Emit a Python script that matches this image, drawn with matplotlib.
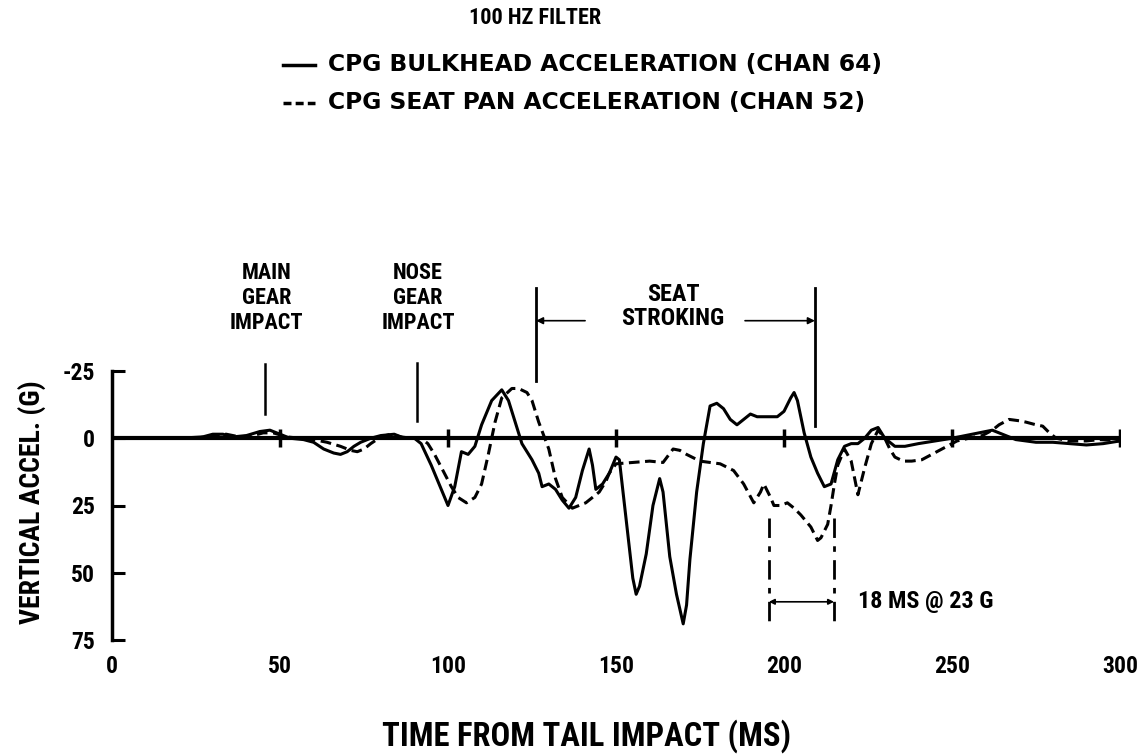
import numpy as np
import matplotlib.pyplot as plt

COND = ['Roboto Condensed', 'DejaVu Sans']
WIDE = ['DejaVu Sans']

# time (ms) / vertical acceleration (G), positive = downward on the plot
bulkhead_t = [0, 20, 27, 30, 33, 36, 40, 44, 47, 50, 53, 57, 60, 63, 66, 68, 70, 72, 74, 77,
              80, 84, 87, 90, 92, 95, 98, 100, 102, 104, 106, 108, 110, 113, 116, 118, 120,
              122, 125, 127, 128, 130, 132, 134, 136, 138, 140, 142, 143, 144, 146, 148, 150,
              151, 153, 155, 156, 157, 159, 161, 163, 164, 166, 168, 170, 171, 172, 174, 176,
              178, 180, 182, 184, 186, 188, 190, 192, 195, 198, 200, 202, 203, 204, 206, 208,
              210, 212, 214, 216, 218, 220, 222, 224, 226, 228, 230, 233, 236, 240, 245, 250,
              254, 258, 262, 265, 269, 275, 280, 290, 295, 300]
bulkhead_g = [0, 0, -0.5, -1.5, -1.5, -0.5, -1, -2.5, -3, -1.5, 0, 0.5, 1.5, 4, 5.5, 6, 5, 3, 1.5, 0,
              -1, -1.5, 0, 0, 2, 10, 19, 25, 18, 5, 6, 3, -5, -14, -18, -14, -6,
              2, 8, 13, 18, 17, 19, 23, 26, 22, 12, 4, 10, 19, 17, 13, 7,
              8, 30, 52, 58, 55, 43, 25, 15, 20, 44, 58, 69, 62, 45, 20, 2,
              -12, -13, -11, -7, -5, -7, -9, -8, -8, -8, -10, -15, -17, -14, -2, 7,
              13, 18, 17, 8, 3, 2, 2, 0, -3, -4, 0, 3, 3, 2, 1, 0,
              -1, -2, -3, -1.5, 0.5, 1.5, 1.5, 2.5, 2, 1]

seatpan_t = [0, 25, 30, 34, 38, 42, 45, 48, 52, 56, 60, 64, 68, 71, 73, 75, 77, 80, 83, 86, 89,
             92, 94, 96, 98.5, 101, 103, 105.5, 108, 110, 112, 114, 116, 119, 121, 123.5, 125,
             127, 130, 132, 134, 137, 139, 141, 143, 145, 147, 148, 150, 155, 160, 164, 167,
             169, 171, 175, 181, 185, 188, 191, 193, 194, 196, 197, 199, 201, 203, 205, 208,
             210, 211, 213, 214, 215, 216, 218, 220, 222, 224, 226, 228, 230, 231.5, 233,
             235.5, 238, 241, 244, 247, 251.5, 255, 259, 262, 264, 267, 270, 272, 275, 277,
             279, 281, 285, 290, 294, 300]
seatpan_g = [0, 0, -1, -1.5, -0.5, -1, -2, -2, -0.5, 0, 0.5, 1.5, 3, 4.5, 5, 4, 2, -0.5, -1.5, -0.5, 0,
             0, 2, 6, 12, 18, 22, 24, 22, 17, 6, -6, -15, -18.5, -18.5, -17, -14,
             -6, 4, 15, 22, 26, 25, 24, 22, 20, 16, 13, 9.5, 9, 8.5, 9, 4,
             4.5, 6, 8.5, 9.5, 12, 17, 24, 20, 17, 22, 25, 25, 24, 26, 28.5, 33,
             38, 37, 32, 25, 17, 10, 4, 8.5, 21, 11, 2, -3, 0, 4, 7,
             8.5, 8.5, 8, 6, 4, 1, 0, -1, -3, -5, -7, -6.5, -6, -5, -4.5,
             -2, 0, 1, 1, 0.5, 1]

x_ticks = [0, 50, 100, 150, 200, 250, 300]
y_ticks = [-25, 0, 25, 50, 75]

main_gear_t = 45.5
nose_gear_t = 90.8
stroke_start, stroke_end = 126.2, 209.2
pulse_start, pulse_end = 195.5, 214.9

W, H = 1144, 755
fig = plt.figure(figsize=(W / 100, H / 100), dpi=100)
ax = fig.add_axes([112 / W, 1 - 640 / H, 1008 / W, 269 / H])

ax.plot(bulkhead_t, bulkhead_g, color='black', lw=2.2, solid_joinstyle='round')
ax.plot(seatpan_t, seatpan_g, color='black', lw=2.2, dashes=(3.5, 1.8))

# zero line with its tick marks
ax.plot([x_ticks[0], x_ticks[-1]], [0, 0], color='black', lw=3)
ax.plot(x_ticks[1:], np.zeros(len(x_ticks) - 1), linestyle='none', marker='|',
        markersize=13, mew=2.5, color='black')

ax.set_xlim(0, 300)
ax.set_ylim(75, -25)
for side in ['top', 'right', 'bottom']:
    ax.spines[side].set_visible(False)
ax.spines['left'].set_linewidth(2.5)
ax.spines['left'].set_bounds(-25, 75)
ax.set_yticks(y_ticks)
ax.set_yticklabels([str(v) for v in y_ticks], fontfamily=COND, fontweight='bold', fontsize=17)
ax.tick_params(axis='y', direction='in', length=9, width=2.2, pad=12)
ax.set_xticks(x_ticks)
ax.set_xticklabels([str(v) for v in x_ticks], fontfamily=COND, fontweight='bold', fontsize=17)
ax.tick_params(axis='x', length=0, pad=11)

ax.set_xlabel('TIME FROM TAIL IMPACT (MS)', fontfamily=COND, fontweight='bold',
              fontsize=23.5, va='center')
ax.xaxis.set_label_coords((587 - 112) / 1008, (640 - 736) / 269)
ax.set_ylabel('VERTICAL ACCEL. (G)', fontfamily=COND, fontweight='bold',
              fontsize=20, va='center')
ax.yaxis.set_label_coords((32 - 112) / 1008, (640 - 502) / 269)

# event markers
note = dict(fontfamily=COND, fontweight='bold', fontsize=16, ha='center', va='center',
            linespacing=1.17)
ax.plot([main_gear_t, main_gear_t], [-27.7, -9.1], color='black', lw=1.8, clip_on=False)
ax.text(main_gear_t + 0.5, -52.2, 'MAIN\nGEAR\nIMPACT', **note)
ax.plot([nose_gear_t, nose_gear_t], [-28, -6.5], color='black', lw=1.8, clip_on=False)
ax.text(nose_gear_t + 0.3, -52.2, 'NOSE\nGEAR\nIMPACT', **note)

# seat stroking interval
ax.plot([stroke_start, stroke_start], [-56, -21.4], color='black', lw=2, clip_on=False)
ax.plot([stroke_end, stroke_end], [-56, -4.6], color='black', lw=2, clip_on=False)
arrow = dict(arrowstyle='-|>', color='black', lw=1.2, mutation_scale=10,
             shrinkA=0, shrinkB=0)
ax.annotate('', xy=(stroke_start, -43.7), xytext=(140.8, -43.7), arrowprops=arrow,
            annotation_clip=False)
ax.annotate('', xy=(stroke_end, -43.7), xytext=(188.4, -43.7), arrowprops=arrow,
            annotation_clip=False)
ax.text(167, -49, 'SEAT\nSTROKING', fontfamily=COND, fontweight='bold', fontsize=17.5,
        ha='center', va='center', linespacing=1.1)

# seat pan pulse width
ax.plot([pulse_start, pulse_start], [29.6, 68.6], color='black', lw=2,
        linestyle=(0, (7, 3, 2, 3)), clip_on=False)
ax.plot([pulse_end, pulse_end], [29.6, 68.6], color='black', lw=2,
        linestyle=(0, (7, 3, 2, 3)), clip_on=False)
both = dict(arrowstyle='<|-|>', color='black', lw=1.2, mutation_scale=8,
            shrinkA=0, shrinkB=0)
ax.annotate('', xy=(pulse_start, 60.8), xytext=(pulse_end, 60.8), arrowprops=both,
            annotation_clip=False)
ax.text(222, 60.8, '18 MS @ 23 G', fontfamily=COND, fontweight='bold', fontsize=17.5,
        ha='left', va='center')

# header and key
fig.text(535 / W, 1 - 18 / H, '100 HZ FILTER', fontfamily=COND, fontweight='bold',
         fontsize=16, ha='center', va='center')
fig.add_artist(plt.Line2D([283 / W, 315 / W], [1 - 65 / H] * 2, color='black', lw=2.5))
fig.add_artist(plt.Line2D([283 / W, 315 / W], [1 - 103 / H] * 2, color='black', lw=2.5,
                          dashes=(2.3, 1.2)))
fig.text(328 / W, 1 - 65 / H, 'CPG BULKHEAD ACCELERATION (CHAN 64)', fontfamily=WIDE,
         fontweight='bold', fontsize=16.8, ha='left', va='center')
fig.text(328 / W, 1 - 103 / H, 'CPG SEAT PAN ACCELERATION (CHAN 52)', fontfamily=WIDE,
         fontweight='bold', fontsize=16.8, ha='left', va='center')

fig.savefig('out.png', dpi=100, facecolor='white')
